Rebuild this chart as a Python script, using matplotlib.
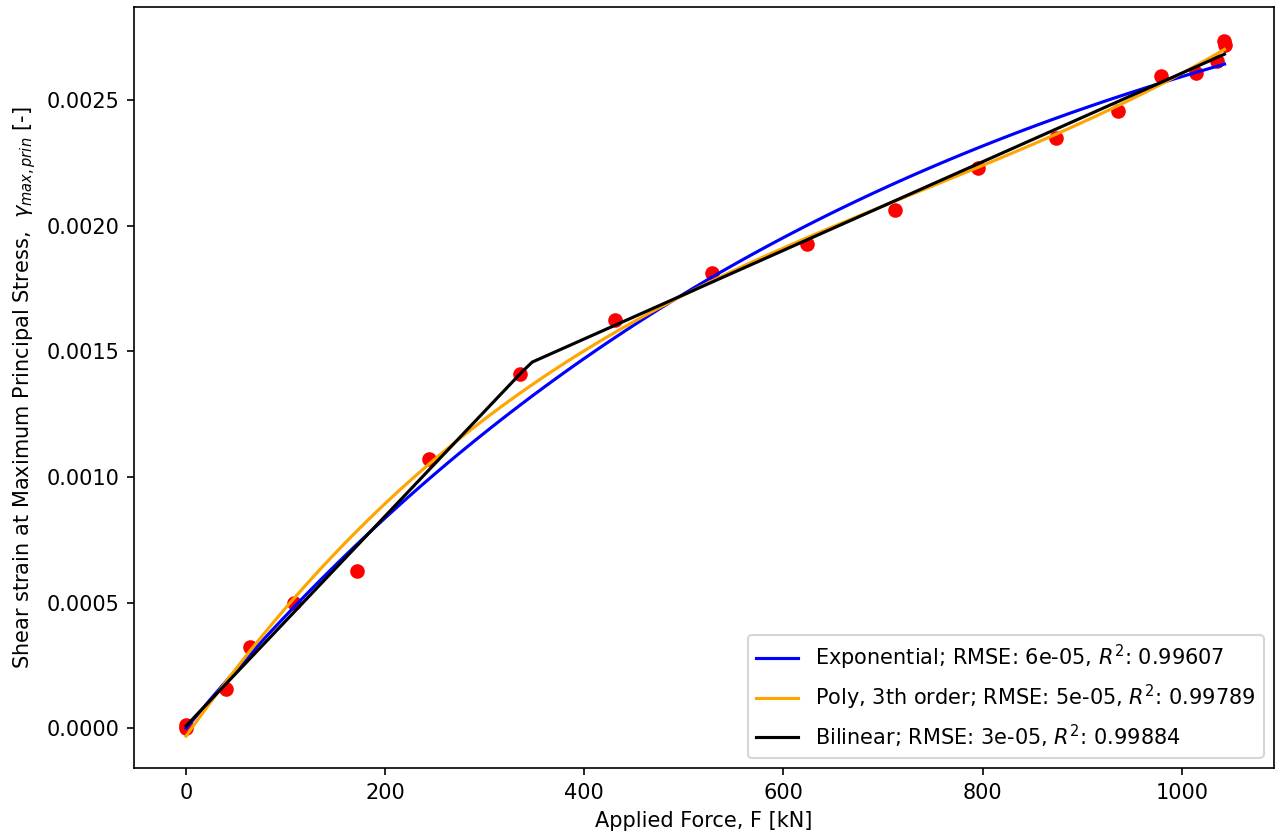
import numpy as np
import matplotlib
matplotlib.use("Agg")
import matplotlib.pyplot as plt

# Measured shear strain vs. applied force
force_kN = [0, 0, 40, 64, 108, 172, 244, 335, 431, 528, 624, 712, 795,
            874, 936, 979, 1014, 1035, 1042, 1043]
shear_strain = [0.000000, 0.000012, 0.000155, 0.000322, 0.000500, 0.000627,
                0.001072, 0.001410, 0.001625, 0.001813, 0.001926, 0.002063,
                0.002230, 0.002350, 0.002456, 0.002596, 0.002609, 0.002657,
                0.002735, 0.002720]

legend_labels = [
    "Exponential; RMSE: 6e-05, $R^2$: 0.99607",
    "Poly, 3th order; RMSE: 5e-05, $R^2$: 0.99789",
    "Bilinear; RMSE: 3e-05, $R^2$: 0.99884",
]

x = np.asarray(force_kN, dtype=float)
y = np.asarray(shear_strain, dtype=float)
xs = np.linspace(x.min(), x.max(), 100)

# Exponential saturation fit: y = a * (1 - exp(-b x))
best = None
for b in np.linspace(2e-4, 5e-3, 4000):
    g = 1.0 - np.exp(-b * x)
    a = g @ y / (g @ g)
    err = np.sum((a * g - y) ** 2)
    if best is None or err < best[0]:
        best = (err, a, b)
_, a_exp, b_exp = best
y_exp = a_exp * (1.0 - np.exp(-b_exp * xs))

# Third order polynomial fit
coef = np.polyfit(x, y, 3)
y_poly = np.polyval(coef, xs)

# Continuous bilinear (hinge) fit
best = None
for k in np.linspace(100, 900, 1601):
    A = np.column_stack([np.ones_like(x), x, np.maximum(x - k, 0)])
    c, *_ = np.linalg.lstsq(A, y, rcond=None)
    err = np.sum((A @ c - y) ** 2)
    if best is None or err < best[0]:
        best = (err, k, c)
_, k_bl, c_bl = best
y_bil = c_bl[0] + c_bl[1] * xs + c_bl[2] * np.maximum(xs - k_bl, 0)

DPI = 150
fig = plt.figure(figsize=(1282 / DPI, 838 / DPI), dpi=DPI)
ax = fig.add_axes([134 / 1282, 1 - 768.3 / 838, 1140 / 1282, 761 / 838])

ax.scatter(x, y, color="red", zorder=2)
ax.plot(xs, y_exp, color="blue", label=legend_labels[0], zorder=3)
ax.plot(xs, y_poly, color="orange", label=legend_labels[1], zorder=3)
ax.plot(xs, y_bil, color="black", label=legend_labels[2], zorder=3)

ax.set_xlim(-52.3, 1092.7)
ax.set_ylim(-0.000159, 0.002869)
ax.set_xlabel("Applied Force, F [kN]")
ax.set_ylabel(r"Shear strain at Maximum Principal Stress,  $\gamma_{max,prin}$ [-]")
ax.legend(loc="lower right")

fig.savefig("out.png", dpi=DPI)
